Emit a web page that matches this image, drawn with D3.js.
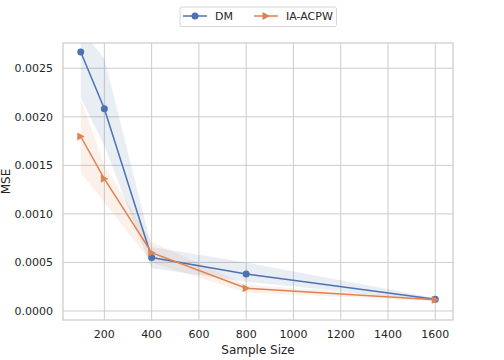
<!DOCTYPE html>
<html><head><meta charset="utf-8">
<script src="https://cdn.jsdelivr.net/npm/d3@7"></script>
<style>body{margin:0;background:#fff}svg{display:block}text{font-family:"DejaVu Sans",sans-serif;fill:#262626}</style>
</head><body><svg id="c" width="504" height="360"></svg>
<script>
const sampleSizes = [100, 200, 400, 800, 1600];
const dmMean  = [0.002667, 0.002082, 0.00055, 0.00038, 0.00012];
const dmLow   = [0.00220, 0.00170, 0.00044, 0.00030, 0.000105];
const dmHigh  = [0.00290, 0.00260, 0.00066, 0.00050, 0.000135];
const iaMean  = [0.001797, 0.001361, 0.00060, 0.000234, 0.000115];
const iaLow   = [0.00142, 0.00112, 0.00050, 0.00019, 0.000100];
const iaHigh  = [0.00218, 0.00150, 0.00071, 0.00027, 0.000130];
const xTicks = [200, 400, 600, 800, 1000, 1200, 1400, 1600];
const yTicks = [0, 0.0005, 0.001, 0.0015, 0.002, 0.0025];

const L = 63, R = 453, T = 43, B = 320;
const svg = d3.select("#c");
const x = d3.scaleLinear().domain([25, 1675]).range([L, R]);
const y = d3.scaleLinear().domain([-0.0000928, 0.00276]).range([B, T]);
const grid = "#cccccc";

svg.append("defs").append("clipPath").attr("id","clip").append("rect")
  .attr("x",L).attr("y",T).attr("width",R-L).attr("height",B-T);

svg.append("g").selectAll("line").data(xTicks).join("line")
  .attr("x1",d=>x(d)).attr("x2",d=>x(d)).attr("y1",T).attr("y2",B)
  .attr("stroke",grid).attr("stroke-width",1);
svg.append("g").selectAll("line").data(yTicks).join("line")
  .attr("x1",L).attr("x2",R).attr("y1",d=>y(d)).attr("y2",d=>y(d))
  .attr("stroke",grid).attr("stroke-width",1);

const series = [
  {name:"DM", color:"#4c72b0", mean:dmMean, lo:dmLow, hi:dmHigh, marker:"circle"},
  {name:"IA-ACPW", color:"#dd8452", mean:iaMean, lo:iaLow, hi:iaHigh, marker:"tri"}
];
const plot = svg.append("g").attr("clip-path","url(#clip)");
series.forEach(s=>{
  const pts = sampleSizes.map((n,i)=>({n, m:s.mean[i], lo:s.lo[i], hi:s.hi[i]}));
  plot.append("path").datum(pts)
    .attr("d", d3.area().x(d=>x(d.n)).y0(d=>y(d.lo)).y1(d=>y(d.hi)))
    .attr("fill", s.color).attr("fill-opacity", 0.12);
});
series.forEach(s=>{
  const pts = sampleSizes.map((n,i)=>({n, m:s.mean[i]}));
  plot.append("path").datum(pts)
    .attr("d", d3.line().x(d=>x(d.n)).y(d=>y(d.m)))
    .attr("fill","none").attr("stroke", s.color).attr("stroke-width",1.5);
  const g = plot.append("g");
  if (s.marker==="circle") {
    g.selectAll("circle").data(pts).join("circle")
      .attr("cx",d=>x(d.n)).attr("cy",d=>y(d.m)).attr("r",3.5).attr("fill",s.color);
  } else {
    g.selectAll("path").data(pts).join("path")
      .attr("d","M4,0L-3.5,-4L-3.5,4Z")
      .attr("transform",d=>`translate(${x(d.n)},${y(d.m)})`).attr("fill",s.color);
  }
});

svg.append("rect").attr("x",L).attr("y",T).attr("width",R-L).attr("height",B-T)
  .attr("fill","none").attr("stroke",grid).attr("stroke-width",1.25);

svg.append("g").selectAll("text").data(xTicks).join("text")
  .attr("x",d=>x(d)).attr("y",B+18).attr("text-anchor","middle").attr("font-size",11)
  .text(d=>d);
svg.append("g").selectAll("text").data(yTicks).join("text")
  .attr("x",L-10).attr("y",d=>y(d)).attr("dy","0.35em").attr("text-anchor","end").attr("font-size",11)
  .text(d=>d3.format(".4f")(d));

svg.append("text").attr("x",(L+R)/2).attr("y",354).attr("text-anchor","middle").attr("font-size",12).text("Sample Size");
svg.append("text").attr("transform",`translate(9.5,${(T+B)/2}) rotate(-90)`).attr("text-anchor","middle").attr("font-size",12).text("MSE");

const lg = svg.append("g");
lg.append("rect").attr("x",180).attr("y",7).attr("width",156.5).attr("height",19.5).attr("rx",2)
  .attr("fill","#fff").attr("stroke","#d6d6d6").attr("stroke-width",1);
const ly = 16;
lg.append("line").attr("x1",183).attr("x2",207).attr("y1",ly).attr("y2",ly).attr("stroke",series[0].color).attr("stroke-width",1.5);
lg.append("circle").attr("cx",195).attr("cy",ly).attr("r",3.5).attr("fill",series[0].color);
lg.append("text").attr("x",215).attr("y",ly).attr("dy","0.35em").attr("font-size",11).text(series[0].name);
lg.append("line").attr("x1",254).attr("x2",278).attr("y1",ly).attr("y2",ly).attr("stroke",series[1].color).attr("stroke-width",1.5);
lg.append("path").attr("d","M4,0L-3.5,-4L-3.5,4Z").attr("transform",`translate(266,${ly})`).attr("fill",series[1].color);
lg.append("text").attr("x",286).attr("y",ly).attr("dy","0.35em").attr("font-size",11).text(series[1].name);
</script></body></html>
